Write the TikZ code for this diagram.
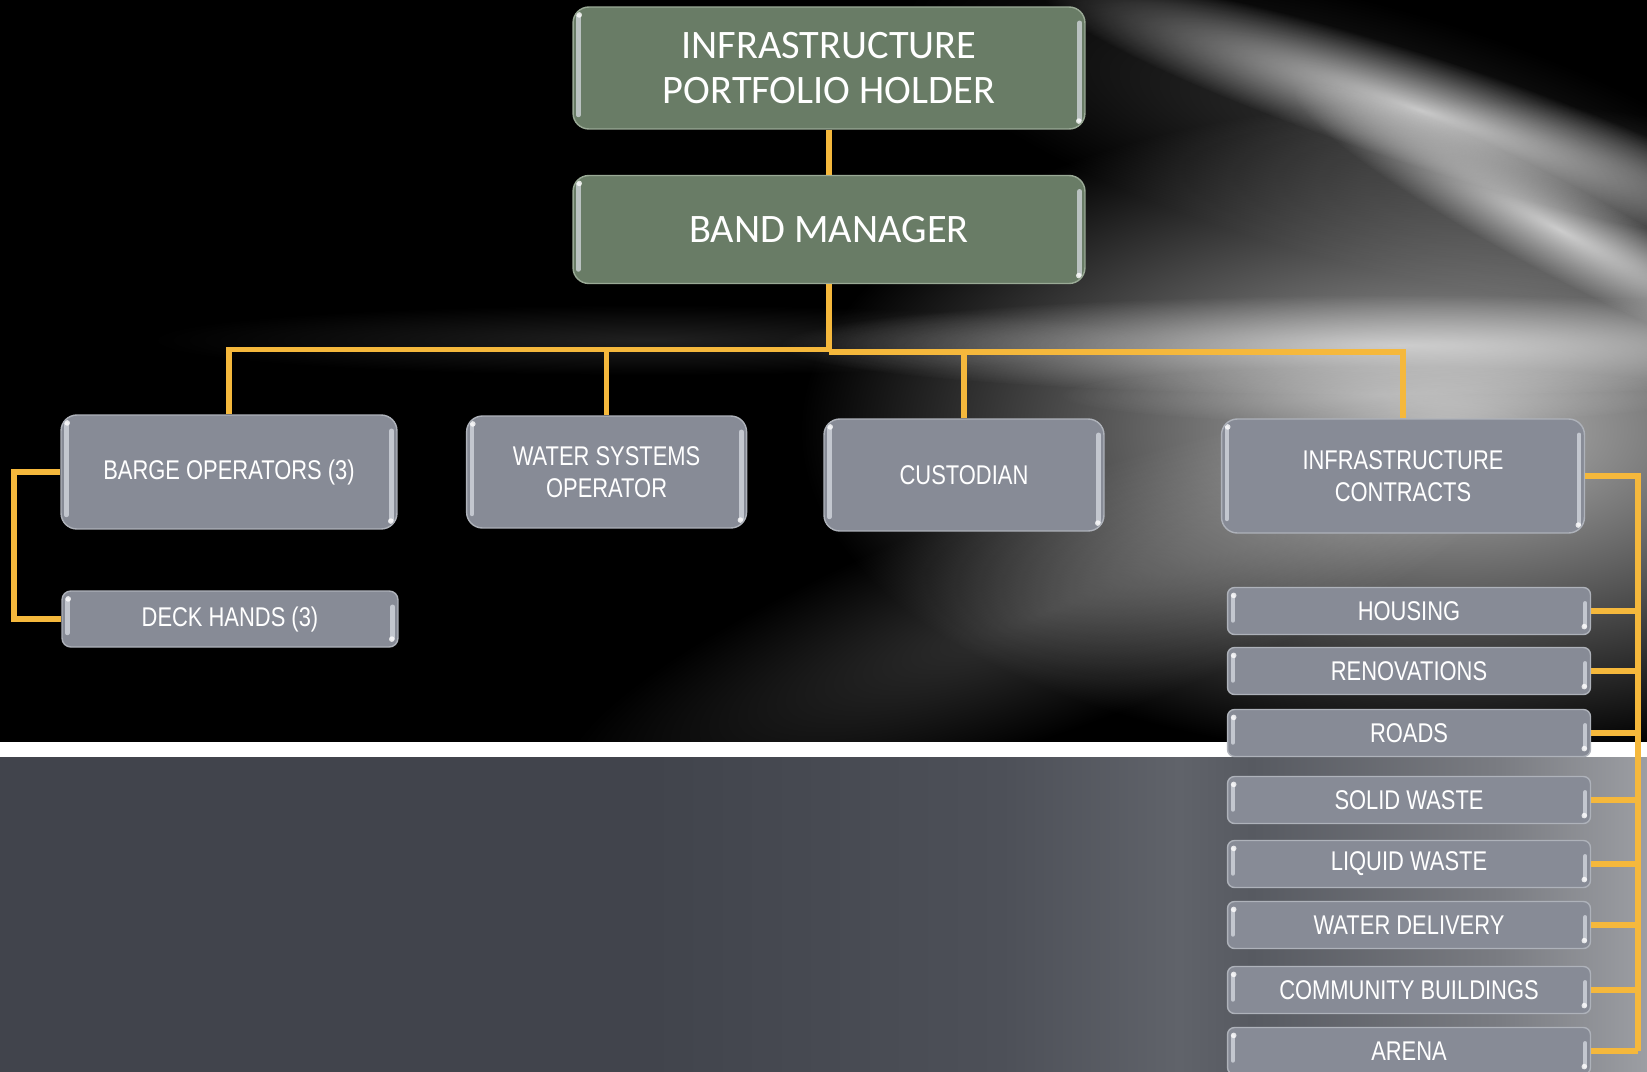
\documentclass[tikz,border=0pt]{standalone}
\usepackage{fontspec}
\setmainfont{Carlito}
\newfontfamily\narrowfont[FakeStretch=0.81]{Liberation Sans}

\definecolor{linkcol}{HTML}{F5B83C}
\definecolor{greenbox}{HTML}{697C66}
\definecolor{greenedge}{HTML}{9AAA96}
\definecolor{greybox}{HTML}{878B96}
\definecolor{greyedge}{HTML}{AEB2BA}
\definecolor{glosscol}{HTML}{DDE1E8}
\definecolor{slateA}{HTML}{41444C}
\definecolor{slateB}{HTML}{4D5058}
\definecolor{slateC}{HTML}{60636A}
\definecolor{slateD}{HTML}{575A61}
\definecolor{slateE}{HTML}{7A7C82}
\definecolor{slateF}{HTML}{9C9EA3}

\pgfdeclarehorizontalshading{lowerbg}{100bp}{color(0bp)=(slateA); color(25bp)=(slateA);
  color(44.7bp)=(slateA); color(55.4bp)=(slateB); color(60.8bp)=(slateC); color(63bp)=(slateD);
  color(70.5bp)=(slateE); color(75bp)=(slateF); color(100bp)=(slateF)}

\tikzset{
  gloss/.style={path picture={
      \draw[glosscol,opacity=.7,line width=2.6pt,line cap=round]
        ([shift={(3pt,-5pt)}]path picture bounding box.north west) --
        ([shift={(3pt,8pt)}]path picture bounding box.south west);
      \draw[glosscol,opacity=.7,line width=2.6pt,line cap=round]
        ([shift={(-3pt,-9pt)}]path picture bounding box.north east) --
        ([shift={(-3pt,5pt)}]path picture bounding box.south east);
      \fill[white,opacity=.8] ([shift={(3.5pt,-4.5pt)}]path picture bounding box.north west) circle (1.6pt);
      \fill[white,opacity=.8] ([shift={(-3.5pt,4.5pt)}]path picture bounding box.south east) circle (1.6pt);
    }},
  topbox/.style={draw=greenedge,line width=0.8pt,fill=greenbox,rounded corners=9pt,
    text=white,align=center,font=\fontsize{23}{25.4}\selectfont,
    minimum width=10.24cm,gloss},
  unitbox/.style={draw=greyedge,line width=0.8pt,fill=greybox,rounded corners=9pt,
    text=white,align=center,font=\narrowfont\fontsize{15.4}{18.5}\selectfont,gloss},
  subbox/.style={unitbox,rounded corners=4pt,minimum width=7.26cm,minimum height=0.94cm},
  link/.style={draw=linkcol,line width=3pt},
}

\begin{document}
\begin{tikzpicture}[x=0.02cm,y=-0.02cm]
  \useasboundingbox (0,0) rectangle (1647,1072);
  % background
  \fill[black] (0,0) rectangle (1647,742);
  \begin{scope}
    \clip (0,0) rectangle (1647,742);
    \begin{scope}[blend mode=screen]
      \shade[inner color=gray!55,outer color=black] (1450,430) ellipse (650 and 330);
      \shade[inner color=gray!40!black,outer color=black,
        transform canvas={rotate around={20:(1050,610)}}] (1050,610) ellipse (520 and 120);
      \shade[inner color=gray!25!black,outer color=black] (650,340) ellipse (500 and 35);
      \shade[inner color=gray!85,outer color=black] (1400,345) ellipse (620 and 50);
      \shade[inner color=gray!55!black,outer color=black] (1380,395) ellipse (320 and 28);
      \shade[inner color=gray!35!black,outer color=black,
        transform canvas={rotate around={-15:(1350,130)}}] (1350,130) ellipse (460 and 130);
      \shade[inner color=gray!50,outer color=black,
        transform canvas={rotate around={-18:(1420,110)}}] (1420,110) ellipse (400 and 55);
      \shade[inner color=gray!60,outer color=black,
        transform canvas={rotate around={-28:(1560,230)}}] (1560,230) ellipse (300 and 45);
    \end{scope}
  \end{scope}
  \fill[white] (0,742) rectangle (1647,757);
  \shade[shading=lowerbg] (0,757) rectangle (1647,1072);

  % boxes
  \node[topbox,minimum height=2.44cm] (holder) at (829,68) {INFRASTRUCTURE\\PORTFOLIO HOLDER};
  \node[topbox,minimum height=2.16cm] (manager) at (829,229.5) {BAND MANAGER};

  \node[unitbox,minimum width=6.72cm,minimum height=2.28cm] (barge) at (229,472) {BARGE OPERATORS (3)};
  \node[unitbox,rounded corners=5pt,minimum width=6.72cm,minimum height=1.12cm] (deck) at (230,619) {DECK HANDS (3)};
  \node[unitbox,minimum width=5.6cm,minimum height=2.24cm] (watersys) at (606.6,472) {WATER SYSTEMS\\OPERATOR};
  \node[unitbox,minimum width=5.6cm,minimum height=2.24cm] (custodian) at (964,475) {CUSTODIAN};
  \node[unitbox,minimum width=7.26cm,minimum height=2.28cm] (contracts) at (1403,476) {INFRASTRUCTURE\\CONTRACTS};

  \node[subbox] (housing) at (1409,611) {HOUSING};
  \node[subbox] (renov) at (1409,671) {RENOVATIONS};
  \node[subbox] (roads) at (1409,733) {ROADS};
  \node[subbox] (solid) at (1409,800) {SOLID WASTE};
  \node[subbox] (liquid) at (1409,864) {LIQUID WASTE};
  \node[subbox] (delivery) at (1409,925) {WATER DELIVERY};
  \node[subbox] (community) at (1409,990) {COMMUNITY BUILDINGS};
  \node[subbox] (arena) at (1409,1051) {ARENA};

  % connectors
  \coordinate (busL) at (829,349.5);
  \coordinate (busR) at (829,352);
  \coordinate (lhook) at (14,472);
  \coordinate (rbus) at (1638,476);
  \draw[link] (holder) -- (manager);
  \draw[link] (manager.south) -- (busR);
  \draw[link] (barge.north) |- (busL);
  \draw[link] (busR) -| (contracts.north);
  \draw[link] (watersys.north) -- (watersys.north |- busL);
  \draw[link] (custodian.north) -- (custodian.north |- busR);
  \draw[link] (barge.west) -- (lhook) |- (deck.west);
  \draw[link] (contracts.east) -- (rbus) -- (rbus |- arena.east);
  \draw[link] (housing.east) -- (housing.east -| rbus);
  \draw[link] (renov.east) -- (renov.east -| rbus);
  \draw[link] (roads.east) -- (roads.east -| rbus);
  \draw[link] (solid.east) -- (solid.east -| rbus);
  \draw[link] (liquid.east) -- (liquid.east -| rbus);
  \draw[link] (delivery.east) -- (delivery.east -| rbus);
  \draw[link] (community.east) -- (community.east -| rbus);
  \draw[link] (arena.east) -- (arena.east -| rbus);
\end{tikzpicture}
\end{document}
